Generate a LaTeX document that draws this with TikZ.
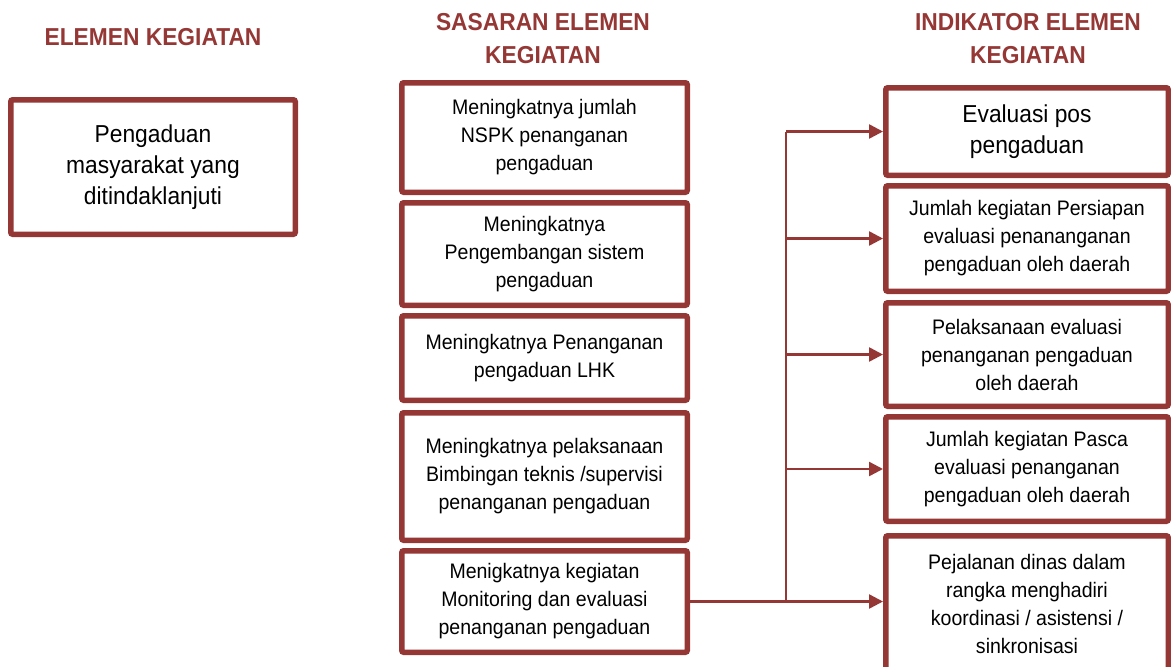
\documentclass[tikz,border=0pt]{standalone}
\usepackage{fontspec}
\setmainfont{Liberation Sans}[FakeStretch=0.93]
\usepackage{tikz}
\usetikzlibrary{arrows.meta,positioning}
\definecolor{kegiatanRed}{HTML}{953735}

\begin{document}
\begin{tikzpicture}[
    x=1pt, y=1pt,
    every node/.style={align=center},
    header/.style={font=\bfseries\fontsize{24.5}{33}\selectfont, text=kegiatanRed},
    box/.style={draw=kegiatanRed, line width=5.5pt, rounded corners=2pt, fill=white, inner sep=2pt, font=\fontsize{21}{28}\selectfont},
    elemen/.style={box, minimum width=284.5pt, minimum height=134.5pt, font=\fontsize{24.5}{31}\selectfont},
    sasaran/.style={box, minimum width=285.5pt},
    indikator/.style={box, minimum width=282.5pt},
    flow/.style={-{Triangle[length=14pt,width=14pt]}, line width=2.5pt, color=kegiatanRed}
  ]
    \useasboundingbox (0,0) rectangle (1171,-667);

    % column headers
    \node[header] (hElemen) at (153,-37) {ELEMEN KEGIATAN};
    \node[header] (hSasaran) at (543,-38.5) {SASARAN ELEMEN\\KEGIATAN};
    \node[header] (hIndikator) at (1028,-38.5) {INDIKATOR ELEMEN\\KEGIATAN};

    \node[elemen] (elemen) at (153,-167) {Pengaduan\\masyarakat yang\\ditindaklanjuti};

    % sasaran column
    \node[sasaran, minimum height=109.5pt] (sas1) at (544.5,-137.5) {Meningkatnya jumlah\\NSPK penanganan\\pengaduan};
    \node[sasaran, minimum height=102.5pt, below=5pt of sas1] (sas2) {Meningkatnya\\Pengembangan sistem\\pengaduan};
    \node[sasaran, minimum height=84.5pt, below=5pt of sas2] (sas3) {Meningkatnya Penanganan\\pengaduan LHK};
    \node[sasaran, minimum height=127.5pt, below=7pt of sas3] (sas4) {Meningkatnya pelaksanaan\\Bimbingan teknis /supervisi\\penanganan pengaduan};
    \node[sasaran, minimum height=101.5pt, below=5pt of sas4] (sas5) {Menigkatnya kegiatan\\Monitoring dan evaluasi\\penanganan pengaduan};

    % indikator column
    \node[indikator, minimum height=87.5pt, font=\fontsize{24.5}{31}\selectfont] (ind1) at (1027,-131.5) {Evaluasi pos\\pengaduan};
    \node[indikator, minimum height=105.5pt, below=5pt of ind1] (ind2) {Jumlah kegiatan Persiapan\\evaluasi penananganan\\pengaduan oleh daerah};
    \node[indikator, minimum height=103.5pt, below=6pt of ind2] (ind3) {Pelaksanaan evaluasi\\penanganan pengaduan\\oleh daerah};
    \node[indikator, minimum height=104.5pt, below=5pt of ind3] (ind4) {Jumlah kegiatan Pasca\\evaluasi penanganan\\pengaduan oleh daerah};
    \node[indikator, minimum height=136.5pt, below=9pt of ind4] (ind5) {Pejalanan dinas dalam\\rangka menghadiri\\koordinasi / asistensi /\\sinkronisasi};

    % connectors
    \coordinate (trunk) at (786,0);
    \draw[kegiatanRed, line width=2.5pt] (sas5.east) -- (sas5.east -| trunk) -- (ind1.west -| trunk);
    \draw[flow] (sas5.east -| trunk) -- (sas5.east -| ind5.west);
    \foreach \i in {1,...,4}
      \draw[flow] (ind\i.west -| trunk) -- (ind\i.west);
  \end{tikzpicture}
\end{document}
